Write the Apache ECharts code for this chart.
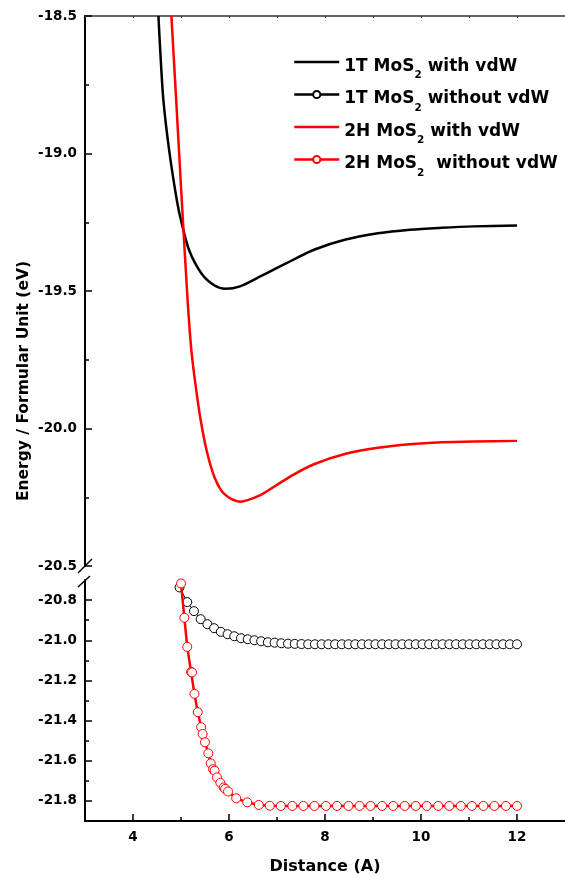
<!DOCTYPE html>
<html>
<head>
<meta charset="utf-8">
<script src="https://cdn.jsdelivr.net/npm/echarts@6/dist/echarts.min.js"></script>
<style>
html,body{margin:0;padding:0;background:#fff;}
#chart{width:565px;height:878px;}
</style>
</head>
<body>
<div id="chart"></div>
<script>
// ---- data ----
const seriesNames = ['1T MoS2 with vdW', '1T MoS2 without vdW', '2H MoS2 with vdW', '2H MoS2  without vdW'];

const t1WithX = [4.53, 4.567, 4.633, 4.753, 4.913, 5.0, 5.17, 5.43, 5.7, 5.93, 6.23, 6.63, 6.97, 7.3, 7.77, 8.43, 9.1, 9.77, 10.43, 11.1, 12.0];
const t1WithY = [-18.5, -18.624, -18.806, -18.988, -19.17, -19.243, -19.352, -19.437, -19.48, -19.492, -19.483, -19.449, -19.419, -19.39, -19.35, -19.313, -19.29, -19.277, -19.27, -19.265, -19.262];

const h2WithX = [4.8, 4.9, 5.016, 5.138, 5.216, 5.3, 5.4, 5.534, 5.7, 5.9, 6.23, 6.63, 6.97, 7.3, 7.77, 8.43, 9.1, 9.77, 10.43, 11.1, 12.0];
const h2WithY = [-18.5, -18.806, -19.17, -19.534, -19.716, -19.838, -19.959, -20.08, -20.178, -20.238, -20.266, -20.244, -20.208, -20.172, -20.13, -20.092, -20.07, -20.057, -20.05, -20.047, -20.045];

const t1NoX = [4.97, 5.13, 5.27, 5.41, 5.55, 5.69, 5.83, 5.97, 6.11, 6.25, 6.39, 6.53, 6.67, 6.81, 6.95, 7.09, 7.23, 7.37, 7.51, 7.65, 7.79, 7.93, 8.07, 8.21, 8.35, 8.49, 8.63, 8.77, 8.91, 9.05, 9.19, 9.33, 9.47, 9.61, 9.75, 9.89, 10.03, 10.17, 10.31, 10.45, 10.59, 10.73, 10.87, 11.01, 11.15, 11.29, 11.43, 11.57, 11.71, 11.85, 12.0];
const t1NoY = [-20.737, -20.81, -20.855, -20.895, -20.92, -20.94, -20.958, -20.97, -20.98, -20.99, -20.995, -21.0, -21.005, -21.01, -21.012, -21.015, -21.017, -21.018, -21.019, -21.02, -21.02, -21.02, -21.02, -21.02, -21.02, -21.02, -21.02, -21.02, -21.02, -21.02, -21.02, -21.02, -21.02, -21.02, -21.02, -21.02, -21.02, -21.02, -21.02, -21.02, -21.02, -21.02, -21.02, -21.02, -21.02, -21.02, -21.02, -21.02, -21.02, -21.02, -21.02];

const h2NoX = [5.0, 5.07, 5.13, 5.21, 5.23, 5.28, 5.35, 5.42, 5.45, 5.5, 5.57, 5.62, 5.67, 5.7, 5.75, 5.82, 5.89, 5.92, 5.98, 6.15, 6.38, 6.62, 6.85, 7.08, 7.32, 7.55, 7.78, 8.02, 8.25, 8.49, 8.72, 8.95, 9.19, 9.42, 9.66, 9.89, 10.12, 10.36, 10.59, 10.83, 11.06, 11.3, 11.53, 11.77, 12.0];
const h2NoY = [-20.717, -20.888, -21.033, -21.158, -21.16, -21.267, -21.358, -21.433, -21.467, -21.508, -21.563, -21.613, -21.642, -21.65, -21.683, -21.71, -21.733, -21.74, -21.753, -21.787, -21.807, -21.82, -21.824, -21.825, -21.825, -21.825, -21.825, -21.825, -21.825, -21.825, -21.825, -21.825, -21.825, -21.825, -21.825, -21.825, -21.825, -21.825, -21.825, -21.825, -21.825, -21.825, -21.825, -21.825, -21.825];

const xMajorTicks = [4, 6, 8, 10, 12];
const xMinorTicks = [5, 7, 9, 11];
const yLowMajorTicks = [-20.8, -21.0, -21.2, -21.4, -21.6, -21.8];
const yLowMinorTicks = [-20.9, -21.1, -21.3, -21.5, -21.7];

const xTitle = 'Distance (A)';
const yTitle = 'Energy / Formular Unit (eV)';

// ---- chart ----
const FONT = 'DejaVu Sans';
const zip = (xs, ys) => xs.map((x, i) => [x, ys[i]]);
const labelStyle = {fontFamily: FONT, fontWeight: 'bold', fontSize: 13.5, color: '#000'};
const hiddenMark = {color: 'rgba(0,0,0,0)', borderColor: 'rgba(0,0,0,0)', borderWidth: 0};

const chart = echarts.init(document.getElementById('chart'), null, {renderer: 'canvas'});

const option = {
  animation: false,
  backgroundColor: '#fff',
  grid: [
    {left: 85, top: 16, width: 500, height: 550},
    {left: 85, top: 580, width: 500, height: 241}
  ],
  xAxis: [
    {
      gridIndex: 0, type: 'value', position: 'top', min: 3, max: 13, interval: 1,
      axisLine: {show: true, lineStyle: {color: '#333', width: 1.5}},
      axisTick: {show: true, inside: true, length: 2, lineStyle: {color: '#333'}},
      axisLabel: {show: false}, splitLine: {show: false}
    },
    {
      gridIndex: 1, type: 'value', position: 'bottom', min: 3, max: 13,
      axisLine: {show: true, onZero: false, lineStyle: {color: '#000', width: 2}},
      axisTick: {show: true, inside: true, length: 7, customValues: xMajorTicks, lineStyle: {color: '#000', width: 1.5}},
      axisLabel: Object.assign({customValues: xMajorTicks, margin: 9}, labelStyle),
      splitLine: {show: false},
      name: xTitle, nameLocation: 'middle', nameGap: 38,
      nameTextStyle: {fontFamily: FONT, fontWeight: 'bold', fontSize: 16, color: '#000'}
    },
    {
      gridIndex: 1, type: 'value', position: 'bottom', min: 3, max: 13,
      axisLine: {show: false},
      axisTick: {show: true, inside: true, length: 4, customValues: xMinorTicks, lineStyle: {color: '#000', width: 1.5}},
      axisLabel: {show: false}, splitLine: {show: false}
    }
  ],
  yAxis: [
    {
      gridIndex: 0, type: 'value', position: 'left', min: -20.5, max: -18.5, interval: 0.5,
      axisLine: {show: true, onZero: false, lineStyle: {color: '#000', width: 2}},
      axisTick: {show: true, inside: true, length: 7, lineStyle: {color: '#000', width: 1.5}},
      minorTick: {show: true, splitNumber: 2, length: 4, lineStyle: {color: '#000', width: 1.5}},
      axisLabel: Object.assign({margin: 8, formatter: v => v.toFixed(1)}, labelStyle),
      splitLine: {show: false}, minorSplitLine: {show: false}
    },
    {
      gridIndex: 1, type: 'value', position: 'left', min: -21.9, max: -20.7,
      axisLine: {show: true, onZero: false, lineStyle: {color: '#000', width: 2}},
      axisTick: {show: true, inside: true, length: 7, customValues: yLowMajorTicks, lineStyle: {color: '#000', width: 1.5}},
      axisLabel: Object.assign({margin: 8, customValues: yLowMajorTicks, formatter: v => v.toFixed(1)}, labelStyle),
      splitLine: {show: false}
    },
    {
      gridIndex: 1, type: 'value', position: 'left', min: -21.9, max: -20.7,
      axisLine: {show: false},
      axisTick: {show: true, inside: true, length: 4, customValues: yLowMinorTicks, lineStyle: {color: '#000', width: 1.5}},
      axisLabel: {show: false}, splitLine: {show: false}
    }
  ],
  legend: {
    orient: 'vertical', left: 293, top: 52, padding: 0,
    itemWidth: 45, itemHeight: 9, itemGap: 3.5,
    data: [
      {name: seriesNames[0], itemStyle: hiddenMark, lineStyle: {width: 2.5}},
      {name: seriesNames[1], lineStyle: {width: 2.5}},
      {name: seriesNames[2], itemStyle: hiddenMark, lineStyle: {width: 2.5}},
      {name: seriesNames[3], lineStyle: {width: 2.5}}
    ],
    formatter: function (name) {
      const i = name.indexOf('MoS2');
      return '{m|' + name.slice(0, i + 3) + '}{s|2}{m|' + name.slice(i + 4) + '}';
    },
    textStyle: {
      fontFamily: FONT, fontWeight: 'bold', fontSize: 17, color: '#000',
      rich: {
        m: {fontFamily: FONT, fontWeight: 'bold', fontSize: 17, color: '#000', lineHeight: 20, padding: [6, 0, 0, 0], verticalAlign: 'top'},
        s: {fontFamily: FONT, fontWeight: 'bold', fontSize: 10.5, color: '#000', lineHeight: 10, padding: [18, 0, 0, 0], verticalAlign: 'top'}
      }
    }
  },
  series: [
    {
      name: seriesNames[0], type: 'line', xAxisIndex: 0, yAxisIndex: 0,
      data: zip(t1WithX, t1WithY), smooth: 0.3, symbol: 'none',
      lineStyle: {color: '#000', width: 2.5}, itemStyle: {color: '#000'}, z: 2
    },
    {
      name: seriesNames[1], type: 'line', xAxisIndex: 1, yAxisIndex: 1,
      data: zip(t1NoX, t1NoY), symbol: 'circle', symbolSize: 9,
      lineStyle: {color: '#000', width: 1},
      itemStyle: {color: '#fff', borderColor: '#000', borderWidth: 1}, z: 2
    },
    {
      name: seriesNames[2], type: 'line', xAxisIndex: 0, yAxisIndex: 0,
      data: zip(h2WithX, h2WithY), smooth: 0.3, symbol: 'none',
      lineStyle: {color: '#ff0000', width: 2.5}, itemStyle: {color: '#ff0000'}, z: 3
    },
    {
      name: seriesNames[3], type: 'line', xAxisIndex: 1, yAxisIndex: 1,
      data: zip(h2NoX, h2NoY), symbol: 'circle', symbolSize: 9,
      lineStyle: {color: '#ff0000', width: 2.5},
      itemStyle: {color: '#fff', borderColor: '#ff0000', borderWidth: 1}, z: 3
    }
  ],
  graphic: [
    {type: 'line', shape: {x1: 78, y1: 573, x2: 92, y2: 559}, style: {stroke: '#000', lineWidth: 1.5}, z: 10},
    {type: 'line', shape: {x1: 78, y1: 587, x2: 90, y2: 576}, style: {stroke: '#000', lineWidth: 1.5}, z: 10},
    {
      type: 'text', x: 24, y: 381, rotation: Math.PI / 2,
      style: {text: yTitle, fontFamily: FONT, fontWeight: 'bold', fontSize: 15.5, fill: '#000', textAlign: 'center', textVerticalAlign: 'middle'}
    }
  ]
};
chart.setOption(option);
</script>
</body>
</html>
